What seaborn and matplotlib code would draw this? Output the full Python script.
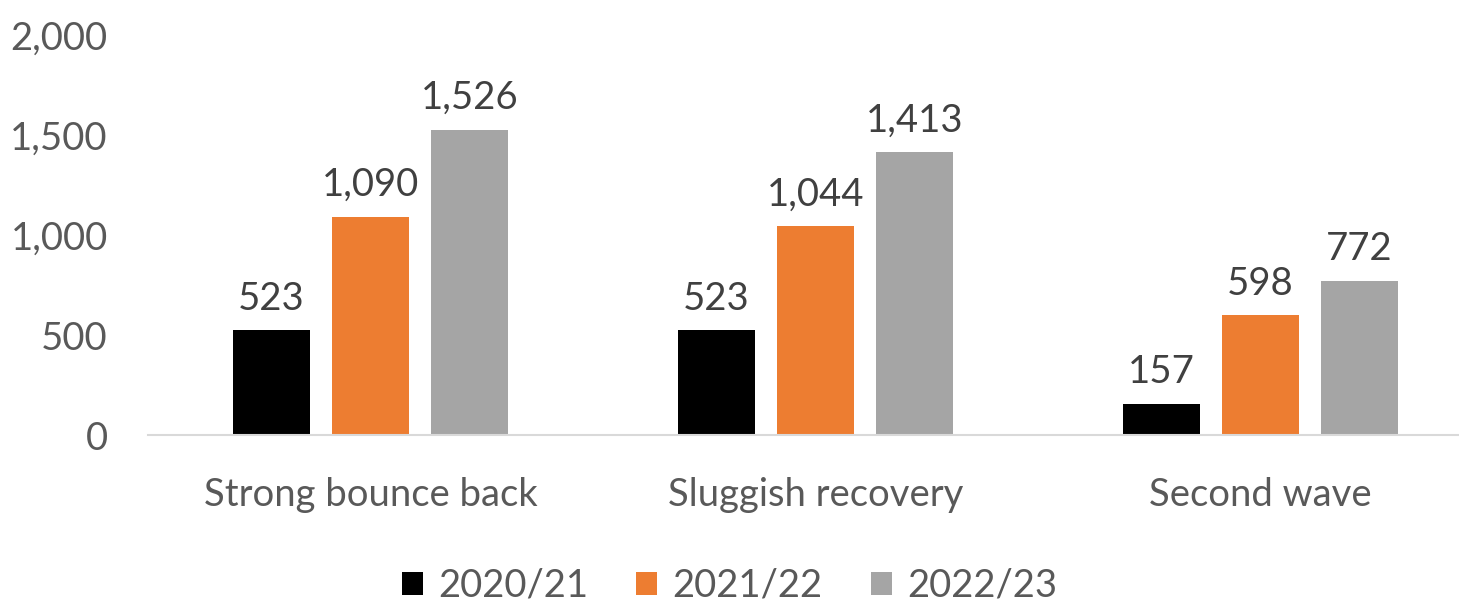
import matplotlib
matplotlib.use("Agg")
import matplotlib.pyplot as plt
import seaborn as sns
import pandas as pd
from matplotlib.patches import Patch

categories = ["Strong bounce back", "Sluggish recovery", "Second wave"]
years = ["2020/21", "2021/22", "2022/23"]
v2020 = [523, 523, 157]
v2021 = [1090, 1044, 598]
v2022 = [1526, 1413, 772]
colors = ["#000000", "#ED7D31", "#A5A5A5"]

rows = []
for yr, vals in zip(years, [v2020, v2021, v2022]):
    for c, v in zip(categories, vals):
        rows.append({"scenario": c, "year": yr, "value": v})
df = pd.DataFrame(rows)

sns.set_theme(style="white")
plt.rcParams["font.family"] = ["Lato", "DejaVu Sans"]

FS = 27.5

fig = plt.figure(figsize=(14.59, 6.02), dpi=100)
ax = fig.add_axes([148/1459, 1 - 435/602, 1 - 148/1459, 400/602])

sns.barplot(data=df, x="scenario", y="value", hue="year", palette=colors,
            width=0.667, gap=0.22, ax=ax, legend=False, errorbar=None,
            edgecolor="none", saturation=1)

for cont in ax.containers:
    ax.bar_label(cont, labels=[f"{v:,.0f}" for v in cont.datavalues],
                 padding=10, fontsize=FS, color="#404040")

ax.set_ylim(0, 2000)
ax.set_xlim(-0.5, 2.446)
ax.set_yticks([0, 500, 1000, 1500, 2000])
ax.set_yticklabels([f"{t:,}" for t in [0, 500, 1000, 1500, 2000]])
ax.set_xlabel("")
ax.set_ylabel("")
for s in ["top", "right", "left"]:
    ax.spines[s].set_visible(False)
ax.spines["bottom"].set_color("#D9D9D9")
ax.spines["bottom"].set_linewidth(1.5)
ax.tick_params(axis="y", length=0, pad=29, labelsize=FS, labelcolor="#595959")
ax.tick_params(axis="x", length=0, pad=30, labelsize=FS, labelcolor="#595959")
ax.patch.set_alpha(0)

handles = [Patch(facecolor=c, edgecolor="none") for c in colors]
fig.legend(handles, years, loc="center", bbox_to_anchor=(0.5, 1 - 586/602),
           ncol=3, frameon=False, fontsize=FS, labelcolor="#595959",
           handlelength=0.55, handleheight=0.55, handletextpad=0.4,
           columnspacing=1.25)

fig.savefig("out.png", dpi=100)
